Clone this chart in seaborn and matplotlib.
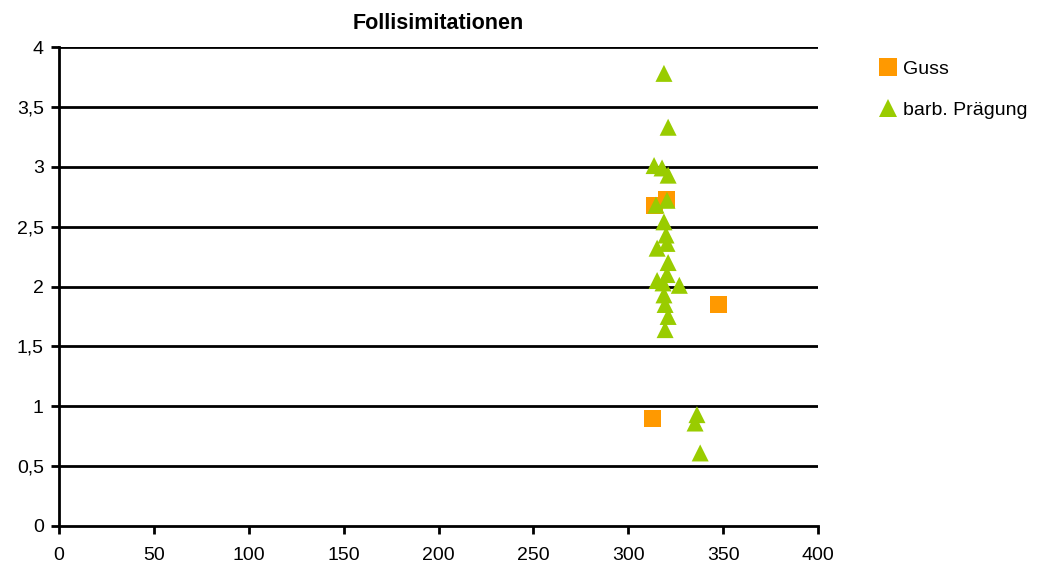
import matplotlib
matplotlib.use("Agg")
import matplotlib.pyplot as plt
import seaborn as sns
import pandas as pd
from matplotlib.ticker import FuncFormatter, MultipleLocator

guss_x = [313.6, 319.9, 347.3, 313.0]
guss_y = [2.68, 2.73, 1.85, 0.90]

praeg_x = [318.8, 321.0, 313.6, 317.8, 321.0, 320.4, 314.6, 318.8, 319.9, 315.2,
           320.4, 321.0, 320.4, 315.2, 318.3, 326.9, 318.8, 319.4, 321.0, 319.4,
           336.2, 335.2, 337.9]
praeg_y = [3.78, 3.33, 3.01, 2.99, 2.93, 2.72, 2.68, 2.54, 2.43, 2.32,
           2.36, 2.20, 2.10, 2.05, 2.03, 2.01, 1.93, 1.85, 1.75, 1.64,
           0.93, 0.86, 0.61]

series_names = ["Guss", "barb. Prägung"]
title = "Follisimitationen"

df = pd.DataFrame({
    "x": guss_x + praeg_x,
    "y": guss_y + praeg_y,
    "Serie": [series_names[0]] * len(guss_x) + [series_names[1]] * len(praeg_x),
})

sns.set_style("white")
plt.rcParams["font.family"] = ["Liberation Sans", "DejaVu Sans"]
plt.rcParams["text.color"] = "black"

fig = plt.figure(figsize=(10.43, 5.70), dpi=100)
ax = fig.add_axes([0.0566, 0.0772, 0.7277, 0.8403])

sns.scatterplot(data=df, x="x", y="y", hue="Serie", style="Serie",
                palette={series_names[0]: "#FF9900", series_names[1]: "#99CC00"},
                markers={series_names[0]: "s", series_names[1]: "^"},
                s=150, linewidth=0, ax=ax, zorder=3, legend=True)

ax.set_xlim(0, 400)
ax.set_ylim(0, 4)
ax.xaxis.set_major_locator(MultipleLocator(50))
ax.yaxis.set_major_locator(MultipleLocator(0.5))
fmt = FuncFormatter(lambda v, p: (f"{v:g}").replace(".", ","))
ax.xaxis.set_major_formatter(fmt)
ax.yaxis.set_major_formatter(fmt)
ax.grid(False)
for yv in [0.5, 1, 1.5, 2, 2.5, 3, 3.5, 4]:
    ax.axhline(yv, color="black", lw=2, zorder=1)
for sp in ["top", "right"]:
    ax.spines[sp].set_visible(False)
for sp in ["left", "bottom"]:
    ax.spines[sp].set_color("black")
    ax.spines[sp].set_linewidth(2)
ax.tick_params(axis="both", direction="out", length=6, width=2, color="black",
               labelsize=14, labelcolor="black", bottom=True, left=True)
ax.tick_params(axis="x", pad=9)
ax.tick_params(axis="y", pad=5)
ax.set_xlabel("")
ax.set_ylabel("")
ax.set_title(title, fontsize=15.5, fontweight="bold", pad=13, color="black")

leg = ax.legend(loc="upper left", bbox_to_anchor=(1.056, 0.988), frameon=False,
                fontsize=14, handletextpad=-0.2, labelspacing=1.2, markerscale=1.0,
                borderaxespad=0)
for t in leg.get_texts():
    t.set_color("black")
fig.savefig("out.png", dpi=100)
